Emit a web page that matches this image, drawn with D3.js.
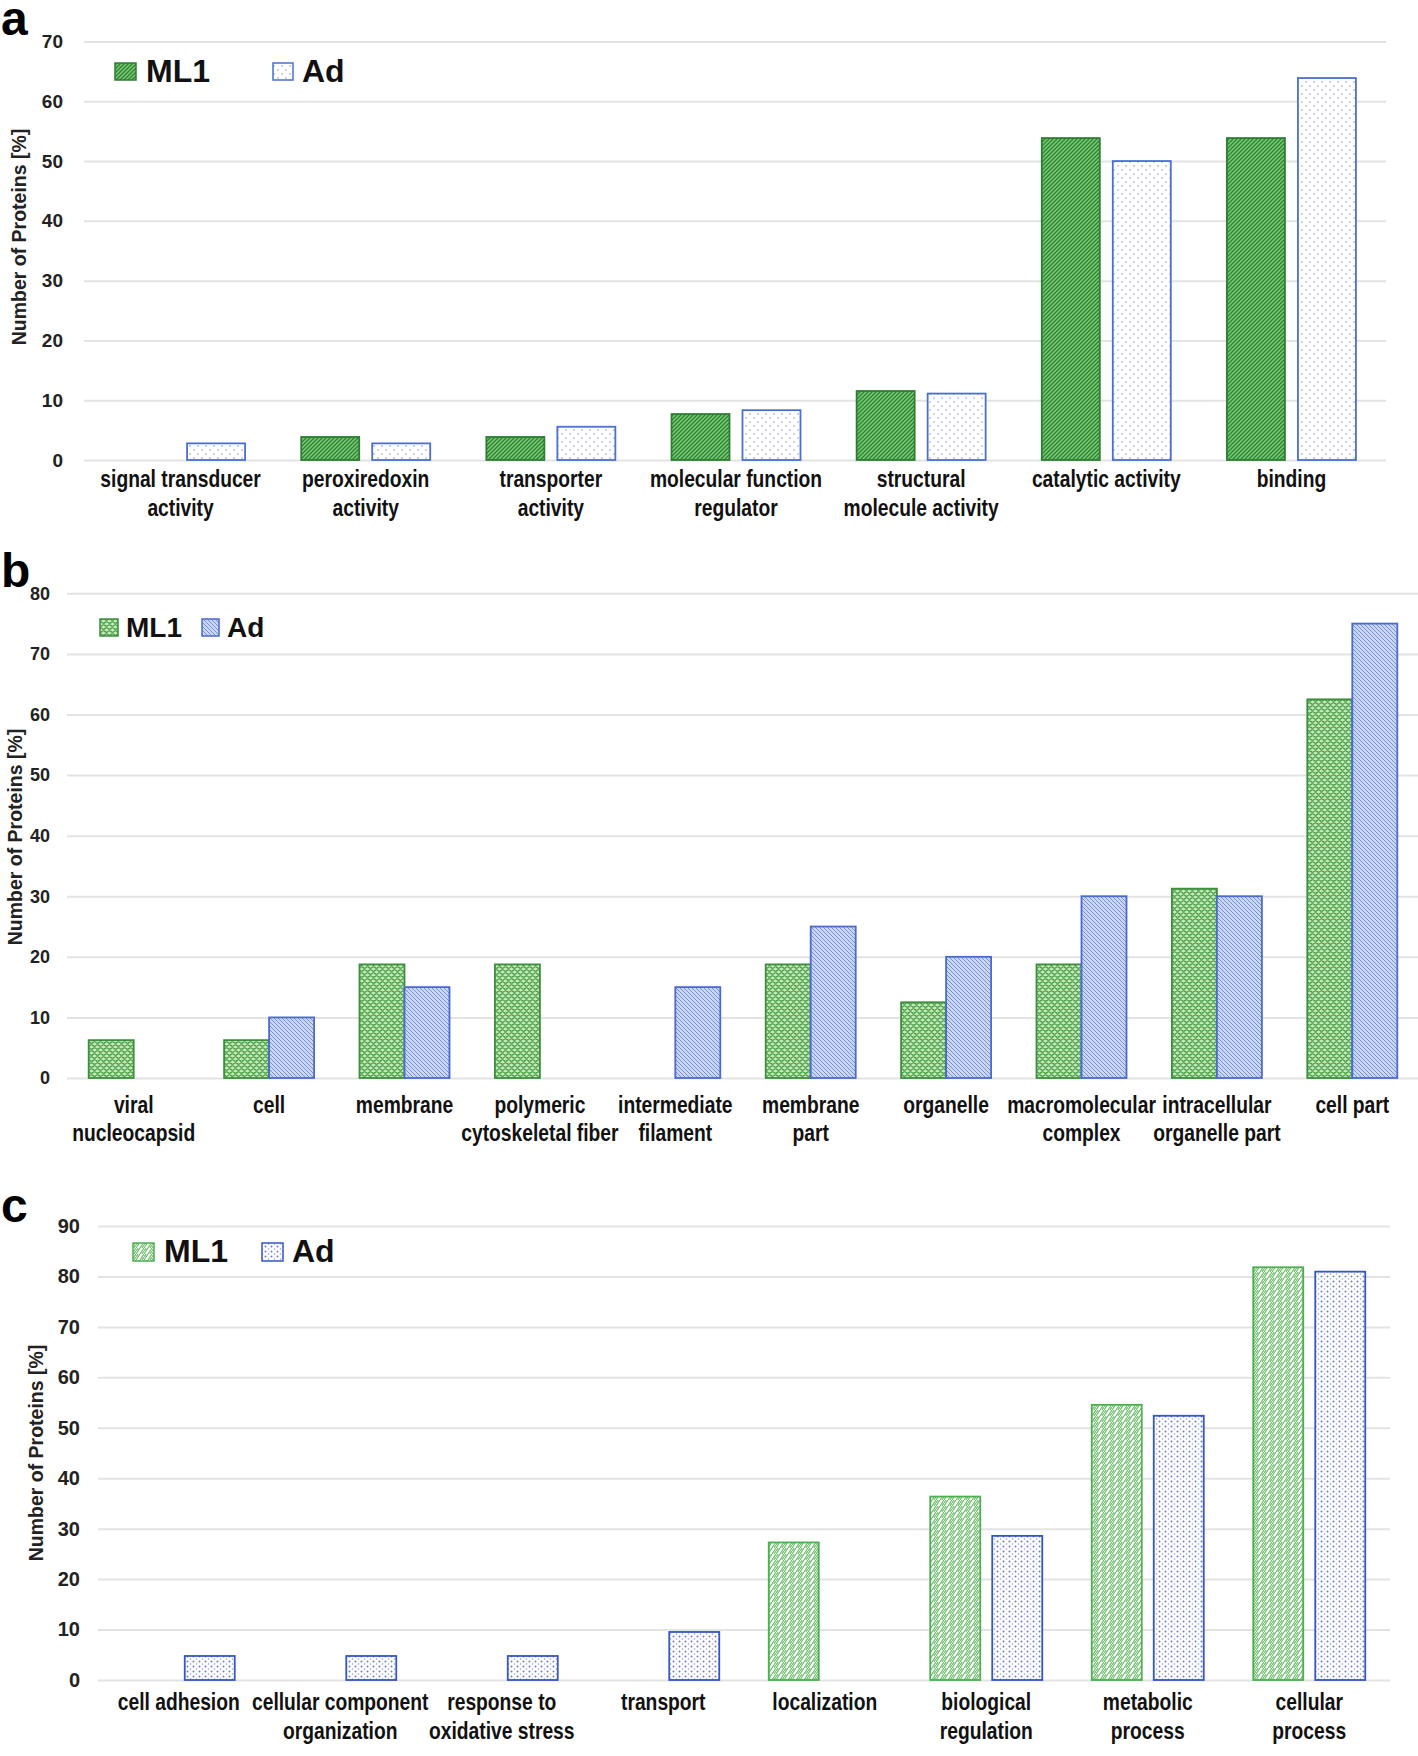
<!DOCTYPE html>
<html><head><meta charset="utf-8">
<script src="https://cdn.jsdelivr.net/npm/d3@7"></script>
<style>
html,body{margin:0;padding:0;background:#fff;}
svg{display:block;}
.tick text{font-family:"Liberation Sans",Arial,sans-serif;font-weight:bold;fill:#222;}
.xl{font-family:"Liberation Sans",Arial,sans-serif;font-weight:bold;fill:#111;}
.lg{font-family:"Liberation Sans",Arial,sans-serif;font-weight:bold;fill:#111;}
.yt{font-family:"Liberation Sans",Arial,sans-serif;font-weight:bold;fill:#222;}
.pl{font-family:"Liberation Sans",Arial,sans-serif;font-weight:bold;fill:#000;}
</style></head><body>
<svg id="chart" width="1418" height="1756"></svg>
<script>
const seriesNames = ["ML1", "Ad"];

// Panel a: molecular function
const categoriesA = ["signal transducer\nactivity", "peroxiredoxin\nactivity", "transporter\nactivity",
  "molecular function\nregulator", "structural\nmolecule activity", "catalytic activity", "binding"];
const ml1A = [0, 3.85, 3.85, 7.69, 11.54, 53.85, 53.85];
const adA = [2.78, 2.78, 5.56, 8.33, 11.11, 50, 63.89];
const ticksA = [0, 10, 20, 30, 40, 50, 60, 70];

// Panel b: cellular component
const categoriesB = ["viral\nnucleocapsid", "cell", "membrane", "polymeric\ncytoskeletal fiber",
  "intermediate\nfilament", "membrane\npart", "organelle", "macromolecular\ncomplex",
  "intracellular\norganelle part", "cell part"];
const ml1B = [6.25, 6.25, 18.75, 18.75, 0, 18.75, 12.5, 18.75, 31.25, 62.5];
const adB = [0, 10, 15, 0, 15, 25, 20, 30, 30, 75];
const ticksB = [0, 10, 20, 30, 40, 50, 60, 70, 80];

// Panel c: biological process
const categoriesC = ["cell adhesion", "cellular component\norganization", "response to\noxidative stress",
  "transport", "localization", "biological\nregulation", "metabolic\nprocess", "cellular\nprocess"];
const ml1C = [0, 0, 0, 0, 27.27, 36.36, 54.55, 81.82];
const adC = [4.76, 4.76, 4.76, 9.52, 0, 28.57, 52.38, 80.95];
const ticksC = [0, 10, 20, 30, 40, 50, 60, 70, 80, 90];

const svg = d3.select("#chart");
const defs = svg.append("defs");

function pattern(id, w, h, bg, build) {
  const p = defs.append("pattern").attr("id", id).attr("patternUnits", "userSpaceOnUse")
    .attr("width", w).attr("height", h);
  p.append("rect").attr("width", w).attr("height", h).attr("fill", bg);
  build(p);
}
// a ML1: green with dark "/" hatch
pattern("pA1", 4, 4, "#7cc874", p => p.append("path")
  .attr("d", "M-1,1 l2,-2 M0,4 l4,-4 M3,5 l2,-2").attr("stroke", "#2c8533").attr("stroke-width", 1.3));
// a Ad: white with sparse dots
pattern("pA2", 8, 8, "#ffffff", p => {
  p.append("circle").attr("cx", 2).attr("cy", 2).attr("r", 0.8).attr("fill", "#8d9acb");
  p.append("circle").attr("cx", 6).attr("cy", 6).attr("r", 0.8).attr("fill", "#8d9acb");
});
// b ML1: light green with squiggle texture
pattern("pB1", 6, 6, "#c4e8b8", p => p.append("path")
  .attr("d", "M0,1.5 q1.5,-1.5 3,0 t3,0 M-3,4.5 q1.5,-1.5 3,0 t3,0 t3,0")
  .attr("stroke", "#3a953a").attr("stroke-width", 1.1).attr("fill", "none"));
// b Ad: light blue with "\" hatch
pattern("pB2", 4, 4, "#c9d6f4", p => p.append("path")
  .attr("d", "M-1,3 l2,2 M0,0 l4,4 M3,-1 l2,2").attr("stroke", "#7890d6").attr("stroke-width", 1));
// c ML1: white with green diagonal brick strokes
pattern("pC1", 8, 6, "#ffffff", p => p.append("path")
  .attr("d", "M0,6 L4,0 M4,6 L8,0 M0,3 L2,0 M6,6 L8,3")
  .attr("stroke", "#6bbd69").attr("stroke-width", 1.2).attr("fill", "none"));
// c Ad: white with blue dot columns
pattern("pC2", 6, 5, "#ffffff", p => {
  p.append("circle").attr("cx", 1.5).attr("cy", 1.5).attr("r", 1).attr("fill", "#6a7dc8");
  p.append("circle").attr("cx", 4.5).attr("cy", 4).attr("r", 0.8).attr("fill", "#8e9dd6");
});

function panel(o) {
  const g = svg.append("g");
  const x = d3.scaleBand().domain(o.cats).range(o.xr);
  const y = d3.scaleLinear().domain([0, o.max]).range(o.yr);

  const ax = d3.axisLeft(y).tickValues(o.ticks).tickFormat(d3.format("d"))
    .tickSize(-(o.gridEnd - o.gridStart)).tickPadding(o.pad);
  g.append("g").attr("transform", `translate(${o.gridStart},0)`).call(ax)
    .call(a => a.select(".domain").remove())
    .call(a => a.selectAll(".tick line").attr("stroke", "#e3e3e3").attr("stroke-width", 2))
    .call(a => a.selectAll(".tick text").attr("font-size", o.tickFs));

  const vals = [o.ml, o.ad];
  seriesNames.forEach((s, si) => {
    g.append("g").selectAll("rect")
      .data(o.cats.map((c, i) => ({ c, v: vals[si][i] })).filter(d => d.v > 0))
      .join("rect")
      .attr("x", d => x(d.c) + x.bandwidth() / 2 + (si === 0 ? -o.gap / 2 - o.bw : o.gap / 2))
      .attr("y", d => y(d.v))
      .attr("width", o.bw)
      .attr("height", d => y(0) - y(d.v))
      .attr("fill", `url(#${o.pat[si]})`)
      .attr("stroke", o.stroke[si]).attr("stroke-width", 1.8);
  });

  // condensed category labels
  const lab = g.append("g").selectAll("text").data(o.cats).join("text")
    .attr("class", "xl").attr("font-size", o.xFs).attr("text-anchor", "middle")
    .attr("transform", d => `translate(${x(d) + x.bandwidth() / 2},${o.labY}) scale(0.82,1)`);
  lab.selectAll("tspan").data(d => d.split("\n")).join("tspan")
    .attr("x", 0)
    .attr("dy", (d, i) => i === 0 ? 0 : o.lineH)
    .text(d => d);

  // y title
  g.append("text").attr("class", "yt").attr("font-size", o.ytFs).attr("text-anchor", "middle")
    .attr("transform", `translate(${o.ytX},${o.ytY}) rotate(-90)`).text("Number of Proteins [%]");

  // panel letter
  g.append("text").attr("class", "pl").attr("font-size", 48).attr("x", 1).attr("y", o.letterY).text(o.letter);

  // legend
  const lg = g.append("g");
  seriesNames.forEach((s, si) => {
    const L = o.legend[si];
    lg.append("rect").attr("x", L.sx).attr("y", L.sy).attr("width", L.sw).attr("height", L.sh)
      .attr("fill", `url(#${o.pat[si]})`).attr("stroke", o.stroke[si]).attr("stroke-width", 1.5);
    lg.append("text").attr("class", "lg").attr("font-size", o.lgFs).attr("x", L.tx).attr("y", L.ty).text(s);
  });
}

panel({
  letter: "a", letterY: 35,
  cats: categoriesA, ml: ml1A, ad: adA, ticks: ticksA, max: 70,
  xr: [88, 1384], yr: [460, 41.5], bw: 58, gap: 13,
  gridStart: 84, gridEnd: 1386, pad: 21, tickFs: 19,
  pat: ["pA1", "pA2"], stroke: ["#2e7d32", "#4a6fd0"],
  xFs: 23.5, labY: 487, lineH: 29,
  ytFs: 19.5, ytX: 26, ytY: 237,
  lgFs: 32,
  legend: [{ sx: 115, sy: 63, sw: 21, sh: 17, tx: 146, ty: 82 },
           { sx: 273, sy: 63, sw: 20, sh: 17, tx: 302, ty: 82 }]
});

panel({
  letter: "b", letterY: 587,
  cats: categoriesB, ml: ml1B, ad: adB, ticks: ticksB, max: 80,
  xr: [66, 1420], yr: [1078, 593.3], bw: 45, gap: 0,
  gridStart: 67, gridEnd: 1418, pad: 17, tickFs: 18,
  pat: ["pB1", "pB2"], stroke: ["#3d8f3d", "#4a6ad0"],
  xFs: 23.5, labY: 1113, lineH: 28,
  ytFs: 19.5, ytX: 22, ytY: 837,
  lgFs: 28,
  legend: [{ sx: 100, sy: 619, sw: 18, sh: 17, tx: 126, ty: 637 },
           { sx: 202, sy: 619, sw: 17, sh: 17, tx: 227, ty: 637 }]
});

panel({
  letter: "c", letterY: 1222,
  cats: categoriesC, ml: ml1C, ad: adC, ticks: ticksC, max: 90,
  xr: [98, 1390], yr: [1680, 1226], bw: 50, gap: 12,
  gridStart: 98, gridEnd: 1390, pad: 18, tickFs: 20,
  pat: ["pC1", "pC2"], stroke: ["#4caf50", "#3556c4"],
  xFs: 23.5, labY: 1710, lineH: 29,
  ytFs: 19.5, ytX: 43, ytY: 1453,
  lgFs: 32,
  legend: [{ sx: 133, sy: 1243, sw: 21, sh: 18, tx: 164, ty: 1262 },
           { sx: 262, sy: 1243, sw: 21, sh: 18, tx: 292, ty: 1262 }]
});
</script>
</body></html>
